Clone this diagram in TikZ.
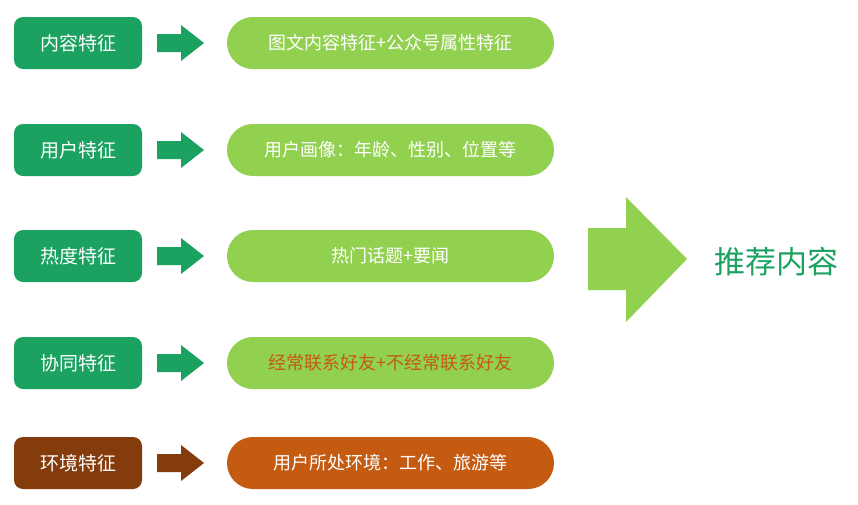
\documentclass[tikz,border=0pt]{standalone}
\usepackage{fontspec}
\setmainfont{Noto Sans CJK SC}
\begin{document}
\begin{tikzpicture}[x=1pt,y=-1pt,
  lbox/.style={rounded corners=9pt,minimum width=128pt,minimum height=52pt,text=white,font=\fontsize{19}{22}\selectfont,inner sep=0pt},
  pill/.style={rounded corners=26pt,minimum width=327pt,minimum height=52pt,text=white,font=\fontsize{18}{22}\selectfont,inner sep=0pt},
  sarrow/.style={fill=#1}]
\definecolor{dg}{HTML}{1BA260}
\definecolor{lg}{HTML}{92D050}
\definecolor{br}{HTML}{843C0C}
\definecolor{og}{HTML}{C55A11}
\useasboundingbox (0,0) rectangle (858,504);
\foreach \y/\a/\b/\c/\d/\e/\f/\n in {
  43/内容特征/dg/图文内容特征+公众号属性特征/lg/white/dg/r1,
  150/用户特征/dg/用户画像：年龄、性别、位置等/lg/white/dg/r2,
  256/热度特征/dg/热门话题+要闻/lg/white/dg/r3,
  363/协同特征/dg/经常联系好友+不经常联系好友/lg/og/dg/r4,
  463/环境特征/br/用户所处环境：工作、旅游等/og/white/br/r5}{
  \node[lbox,fill=\b] (\n l) at (78,\y) {\a};
  \node[pill,fill=\d,text=\e] (\n p) at (390.5,\y) {\c};
  \fill[\f] (157,\y-9) -- (181,\y-9) -- (181,\y-18) -- (204,\y) -- (181,\y+18) -- (181,\y+9) -- (157,\y+9) -- cycle;
}
\fill[lg] (588,228) -- (626,228) -- (626,197) -- (687,259) -- (626,322) -- (626,290) -- (588,290) -- cycle;
\node[text=dg,font=\fontsize{31}{36}\selectfont] (res) at (776,262) {推荐内容};
\end{tikzpicture}
\end{document}
